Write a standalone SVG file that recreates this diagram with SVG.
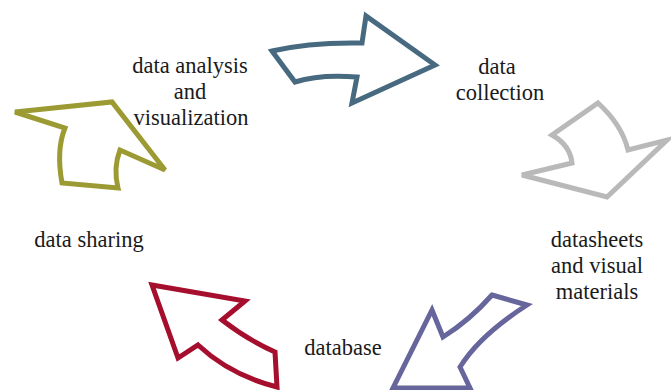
<svg xmlns="http://www.w3.org/2000/svg" width="671" height="390" viewBox="0 0 671 390">
  <style>
    .arrow { fill: #ffffff; stroke-width: 5; stroke-linejoin: miter; }
  </style>
  <rect width="671" height="390" fill="#ffffff"/>
  <g id="connectors">
    <path id="arrow-collect" class="arrow" stroke="#486a80"
      d="M272,51 Q310,42 362,43 L366,16 L435,65 L352,103 L357,77 Q320,74 295,82 Z"/>
    <path id="arrow-sheets" class="arrow" stroke="#b9b9b9"
      d="M598,103 Q622,125 628,150 L667,140 L607,197 L522,175 L572,163 Q570,145 552,135 Z"/>
    <path id="arrow-database" class="arrow" stroke="#67669c"
      d="M492,295 L527,305 Q480,335 460,367 L470,388 L393,388 L432,310 L443,337 Q470,320 492,295 Z"/>
    <path id="arrow-sharing" class="arrow" stroke="#a50e2d"
      d="M152,285 L245,301 L222,320 Q248,340 275,352 L277,387 Q230,375 198,345 L178,358 Z"/>
    <path id="arrow-analysis" class="arrow" stroke="#9b9a33"
      d="M15,112 L112,102 L165,170 L120,150 Q113,168 118,188 L62,183 Q56,150 65,128 Z"/>
  </g>
  <g id="node-collection">
    <text x="497" y="74" font-family="Liberation Serif" font-size="22.5" fill="#1a1a1a" text-anchor="middle">data</text>
    <text x="500" y="100" font-family="Liberation Serif" font-size="22.5" fill="#1a1a1a" text-anchor="middle">collection</text>
  </g>
  <g id="node-datasheets">
    <text x="597" y="247" font-family="Liberation Serif" font-size="22.5" fill="#1a1a1a" text-anchor="middle">datasheets</text>
    <text x="597" y="273" font-family="Liberation Serif" font-size="22.5" fill="#1a1a1a" text-anchor="middle">and visual</text>
    <text x="597" y="299" font-family="Liberation Serif" font-size="22.5" fill="#1a1a1a" text-anchor="middle">materials</text>
  </g>
  <g id="node-database">
    <text x="343" y="355" font-family="Liberation Serif" font-size="22.5" fill="#1a1a1a" text-anchor="middle">database</text>
  </g>
  <g id="node-sharing">
    <text x="89" y="247" font-family="Liberation Serif" font-size="22.5" fill="#1a1a1a" text-anchor="middle">data sharing</text>
  </g>
  <g id="node-analysis">
    <text x="190" y="73" font-family="Liberation Serif" font-size="22.5" fill="#1a1a1a" text-anchor="middle">data analysis</text>
    <text x="190" y="99" font-family="Liberation Serif" font-size="22.5" fill="#1a1a1a" text-anchor="middle">and</text>
    <text x="191" y="125" font-family="Liberation Serif" font-size="22.5" fill="#1a1a1a" text-anchor="middle">visualization</text>
  </g>
</svg>
